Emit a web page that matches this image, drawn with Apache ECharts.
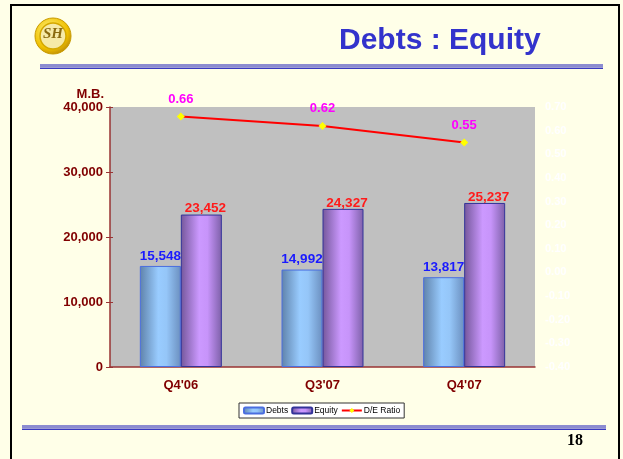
<!DOCTYPE html>
<html>
<head>
    <meta charset="utf-8">
    <title>Debts : Equity</title>
    <script src="https://cdn.jsdelivr.net/npm/echarts@6/dist/echarts.min.js"></script>
    <style>
        html, body { margin: 0; padding: 0; background: #ffffe8; }
    </style>
</head>
<body>
    <div id="container" style="width: 623px; height: 459px;"></div>
    <script type="text/javascript">
        // data
        var quarters = ["Q4'06", "Q3'07", "Q4'07"];
        var debts = [15548, 14992, 13817];
        var equity = [23452, 24327, 25237];
        var deRatio = [0.66, 0.62, 0.55];

        var chart = echarts.init(document.getElementById('container'));

        function hGrad(stops) {
            return new echarts.graphic.LinearGradient(0, 0, 1, 0, stops);
        }

        var boldRed = { color: '#800000', fontWeight: 'bold', fontSize: 13, fontFamily: 'Arial' };

        chart.setOption({
            backgroundColor: '#ffffe8',
            animation: false,
            title: {
                text: 'Debts : Equity',
                left: 334,
                top: 21,
                textStyle: { color: '#3333cc', fontSize: 30, fontWeight: 'bold', fontFamily: 'Arial' }
            },
            legend: {
                data: ['Debts', 'Equity', 'D/E Ratio'],
                left: 239,
                top: 403,
                backgroundColor: '#ffffff',
                borderColor: '#333333',
                borderWidth: 1,
                padding: [3, 4],
                itemGap: 3,
                itemWidth: 20,
                itemHeight: 6,
                textStyle: { fontSize: 8.5, fontFamily: 'Arial', color: '#000', padding: [0, 0, 0, -3] }
            },
            grid: {
                left: 110, right: 88, top: 107, bottom: 92,
                show: true, backgroundColor: '#c0c0c0', borderWidth: 0
            },
            xAxis: [{
                type: 'category',
                data: quarters,
                axisLine: { lineStyle: { color: '#993333', width: 1.5 } },
                axisTick: { length: 4, lineStyle: { color: '#993333' } },
                axisLabel: Object.assign({ margin: 12 }, boldRed)
            }, {
                type: 'category',
                data: quarters,
                position: 'bottom',
                offset: 0,
                axisLine: { show: false },
                axisTick: { inside: true, length: 4, lineStyle: { color: '#993333' } },
                axisLabel: { show: false }
            }],
            yAxis: [{
                type: 'value',
                min: 0, max: 40000, interval: 10000,
                name: 'M.B.',
                nameGap: 3,
                nameTextStyle: { color: '#800000', fontWeight: 'bold', fontSize: 13, fontFamily: 'Arial', align: 'right', padding: [0, 6, 0, 0] },
                axisLine: { show: true, lineStyle: { color: '#993333', width: 1.5 } },
                axisTick: { show: true, length: 4, lineStyle: { color: '#993333' } },
                splitLine: { show: false },
                axisLabel: Object.assign({
                    margin: 7,
                    formatter: function (v) { return v.toLocaleString('en-US'); }
                }, boldRed)
            }, {
                type: 'value',
                position: 'right',
                min: -0.4, max: 0.7, interval: 0.1,
                axisLine: { show: false },
                axisTick: { show: false },
                splitLine: { show: false },
                axisLabel: {
                    margin: 10,
                    color: '#ffffff', fontWeight: 'bold', fontSize: 11, fontFamily: 'Arial',
                    formatter: function (v) { return v.toFixed(2); }
                }
            }, {
                type: 'value',
                position: 'left',
                offset: 0,
                min: 0, max: 40000, interval: 10000,
                axisLine: { show: false },
                axisTick: { show: true, inside: true, length: 3, lineStyle: { color: '#993333' } },
                splitLine: { show: false },
                axisLabel: { show: false }
            }],
            series: [{
                name: 'Debts',
                type: 'bar',
                data: debts,
                barWidth: 41,
                barGap: '0%',
                itemStyle: {
                    color: hGrad([
                        { offset: 0, color: '#5f82aa' },
                        { offset: 0.45, color: '#99ccff' },
                        { offset: 0.65, color: '#95c6f8' },
                        { offset: 1, color: '#6b8fbf' }
                    ]),
                    borderColor: '#4a6ee0',
                    borderWidth: 1
                },
                label: {
                    show: true, position: 'top', distance: 3,
                    color: '#1a1aff', fontWeight: 'bold', fontSize: 13.5, fontFamily: 'Arial',
                    formatter: function (p) { return p.value.toLocaleString('en-US'); }
                }
            }, {
                name: 'Equity',
                type: 'bar',
                data: equity,
                barWidth: 41,
                itemStyle: {
                    color: hGrad([
                        { offset: 0, color: '#74579a' },
                        { offset: 0.45, color: '#cc99ff' },
                        { offset: 0.65, color: '#c794fa' },
                        { offset: 1, color: '#7d60a8' }
                    ]),
                    borderColor: '#333399',
                    borderWidth: 1
                },
                label: {
                    show: true, position: 'top', distance: 0, offset: [4, 1],
                    color: '#ff1a1a', fontWeight: 'bold', fontSize: 13.5, fontFamily: 'Arial',
                    formatter: function (p) { return p.value.toLocaleString('en-US'); }
                }
            }, {
                name: 'D/E Ratio',
                type: 'line',
                yAxisIndex: 1,
                data: deRatio,
                symbol: 'diamond',
                symbolSize: 8,
                lineStyle: { color: '#ff0000', width: 2 },
                itemStyle: { color: '#ffff00', borderWidth: 0 },
                label: {
                    show: true, position: 'top', distance: 7,
                    color: '#ff00ff', fontWeight: 'bold', fontSize: 13, fontFamily: 'Arial',
                    formatter: function (p) { return p.value.toFixed(2); }
                }
            }],
            graphic: [
                // slide frame
                { type: 'rect', shape: { x: 10, y: 4, width: 2, height: 460 }, style: { fill: '#000' } },
                { type: 'rect', shape: { x: 10, y: 4, width: 610, height: 2 }, style: { fill: '#000' } },
                { type: 'rect', shape: { x: 618, y: 4, width: 2, height: 460 }, style: { fill: '#000' } },
                // rule under title
                { type: 'rect', shape: { x: 40, y: 64, width: 563, height: 3 }, style: { fill: '#8c8cd0' } },
                { type: 'rect', shape: { x: 40, y: 67.5, width: 563, height: 1.5 }, style: { fill: '#3a3ac0' } },
                // rule at bottom
                { type: 'rect', shape: { x: 22, y: 425, width: 584, height: 3 }, style: { fill: '#8c8cd0' } },
                { type: 'rect', shape: { x: 22, y: 428.5, width: 584, height: 1.5 }, style: { fill: '#3a3ac0' } },
                // page number
                {
                    type: 'text', left: 567, top: 433,
                    style: { text: '18', fill: '#000', font: 'bold 16px "Liberation Serif", serif' }
                },
                // logo
                {
                    type: 'circle', shape: { cx: 53, cy: 36, r: 18 },
                    style: {
                        fill: new echarts.graphic.RadialGradient(0.4, 0.35, 0.7, [
                            { offset: 0, color: '#fff27a' },
                            { offset: 0.7, color: '#f0c000' },
                            { offset: 1, color: '#b8880a' }
                        ]),
                        stroke: '#c89a00', lineWidth: 1
                    }
                },
                {
                    type: 'circle', shape: { cx: 53, cy: 36, r: 13 },
                    style: { fill: '#f6eaa8', stroke: '#d4a800', lineWidth: 1.5 }
                },
                {
                    type: 'text', left: 43, top: 27,
                    style: { text: 'SH', fill: '#8a6a10', font: 'italic bold 15px "Liberation Serif", serif' }
                }
            ]
        });
    </script>
</body>
</html>
